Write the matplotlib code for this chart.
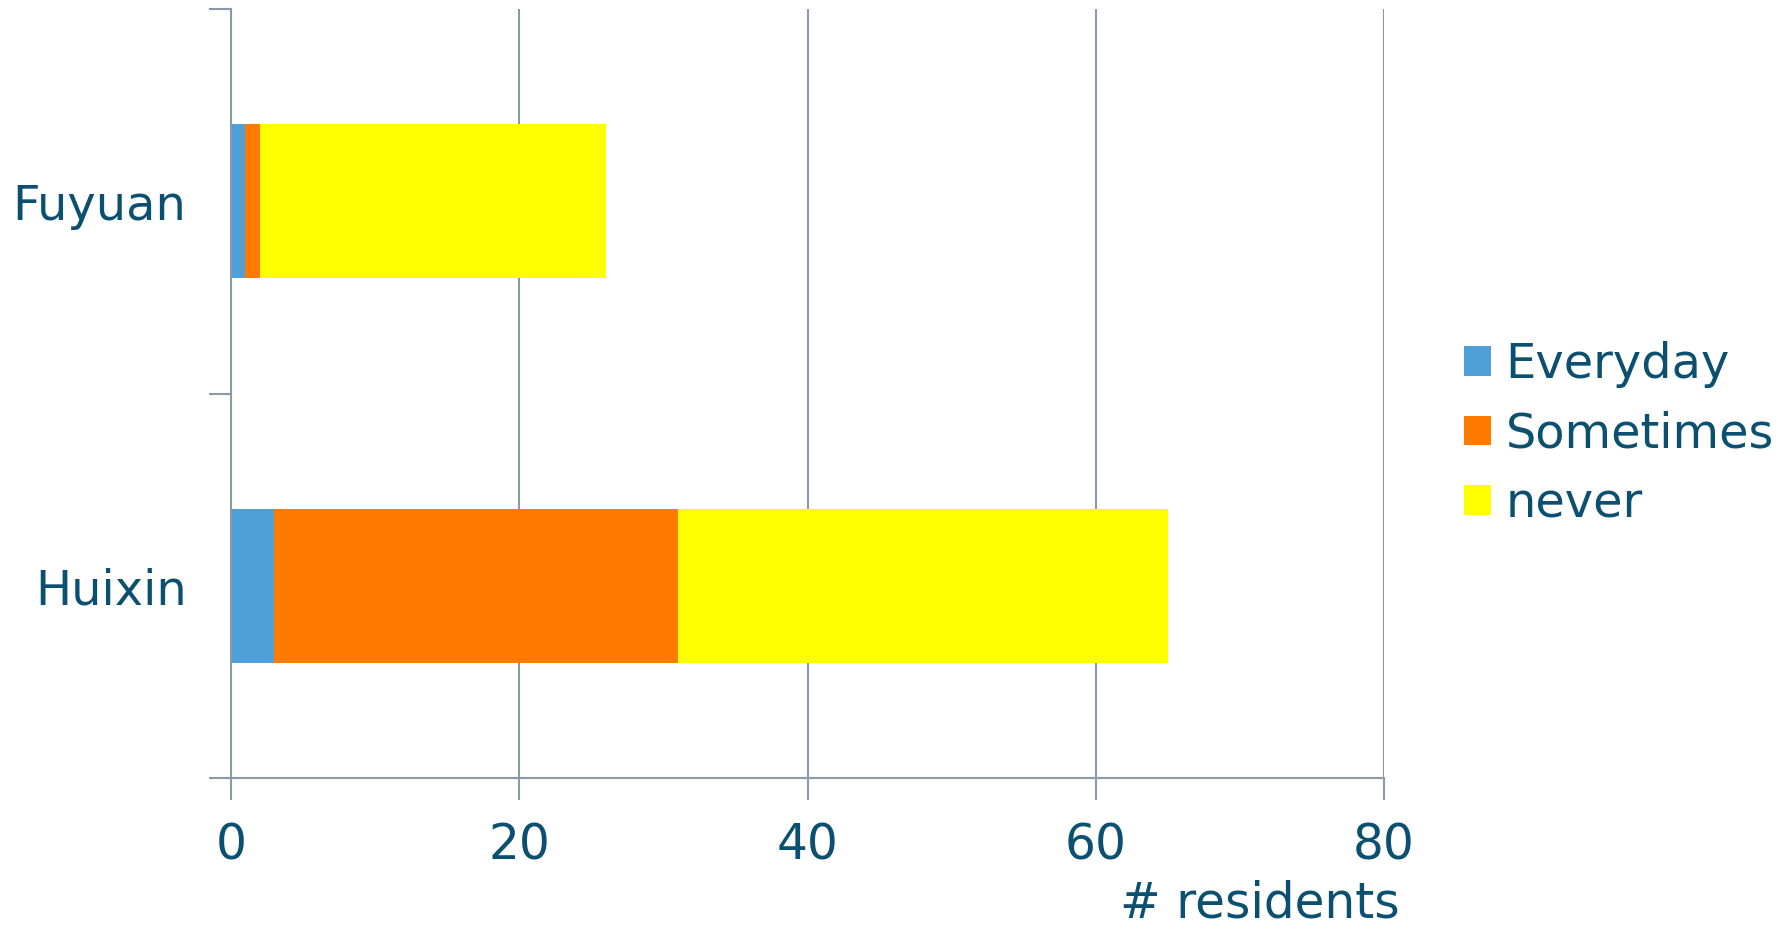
import matplotlib
matplotlib.use("Agg")
import matplotlib.pyplot as plt
from matplotlib.patches import Patch

categories = ["Fuyuan", "Huixin"]
series_names = ["Everyday", "Sometimes", "never"]
everyday = [1, 3]
sometimes = [1, 28]
never = [24, 34]
colors = ["#4FA0D8", "#FF7B00", "#FFFF00"]
xticks = [0, 20, 40, 60, 80]
xlabel = "# residents"

text_c = "#0B5070"
axis_c = "#8A99A8"

plt.rcParams['font.family'] = ['DejaVu Sans']

fig = plt.figure(figsize=(17.87, 9.31), dpi=100)
ax = fig.add_axes([231/1787, 1-778/931, (1384-231)/1787, (778-9)/931])

ypos = list(range(len(categories)))
left = [0]*len(categories)
for name, vals, c in zip(series_names, [everyday, sometimes, never], colors):
    ax.barh(ypos, vals, left=left, height=0.4, color=c, label=name, zorder=3)
    left = [l + v for l, v in zip(left, vals)]

ax.set_xlim(0, 80)
ax.set_ylim(len(categories)-0.5, -0.5)
ax.set_xticks(xticks)
ax.set_xticklabels([str(t) for t in xticks], fontsize=35, color=text_c)
ax.tick_params(axis='x', length=16, width=1.5, color=axis_c, pad=15)

ax.set_yticks([-0.5, 0.5, 1.5])
ax.set_yticklabels([])
ax.set_yticks(ypos, minor=True)
ax.set_yticklabels(categories, minor=True, fontsize=34.5, color=text_c, va='center_baseline')
ax.tick_params(axis='y', which='major', length=16, width=1.5, color=axis_c)
ax.tick_params(axis='y', which='minor', length=0, pad=32)

ax.grid(axis='x', color=axis_c, linewidth=1.5, zorder=0)
for s in ['top', 'right']:
    ax.spines[s].set_visible(False)
for s in ['left', 'bottom']:
    ax.spines[s].set_color(axis_c)
    ax.spines[s].set_linewidth(1.5)
    ax.spines[s].set_zorder(4)

fig.text(1400/1787, 1-918/931, xlabel, fontsize=35, color=text_c, ha='right', va='baseline')

handles = [Patch(facecolor=c, edgecolor='none', label=n) for n, c in zip(series_names, colors)]
fig.legend(handles=handles, loc='center left', bbox_to_anchor=(1464/1787, 1-434/931),
           frameon=False, fontsize=34.5, labelcolor=text_c, handlelength=0.57, handleheight=0.57,
           handletextpad=0.3, labelspacing=0.47, borderpad=0, borderaxespad=0)

fig.savefig("out.png", dpi=100)
